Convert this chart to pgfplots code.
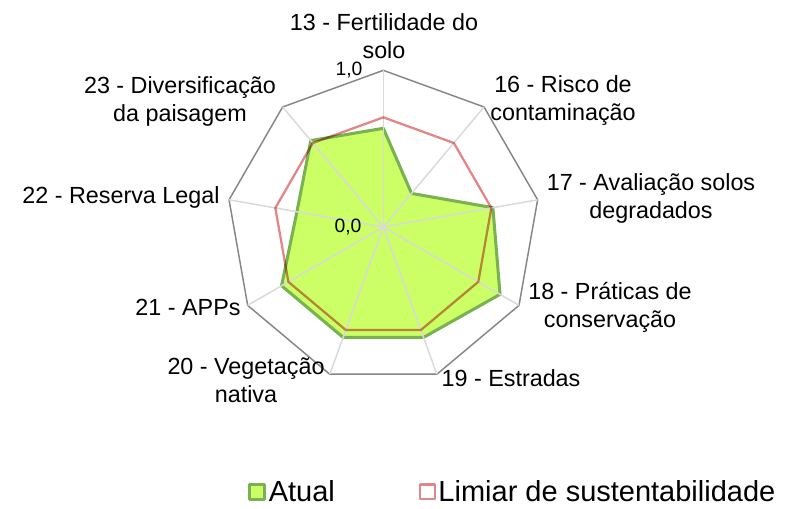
\documentclass[border=0pt]{standalone}
\usepackage{fontspec}
\setmainfont{Liberation Sans}
\usepackage{pgfplots}
\pgfplotsset{compat=1.18}
\definecolor{greenfill}{RGB}{204,255,102}
\definecolor{greenline}{RGB}{122,178,82}
\definecolor{redline}{RGB}{226,134,134}
\definecolor{outerc}{RGB}{134,134,134}
\definecolor{spokec}{RGB}{217,217,217}
\begin{document}
\begin{tikzpicture}
\begin{scope}[x=0.75pt,y=-0.75pt]
\path[use as bounding box] (0,0) rectangle (798,505);
\end{scope}
\begin{axis}[
  at={(287.5pt,-170.25pt)}, anchor=origin,
  x=117.5pt, y=117.5pt,
  xmin=-1, xmax=1, ymin=-1, ymax=1,
  hide axis, clip=false,
  data cs=polar,
  legend columns=2,
  legend image code/.code={\draw[#1] (0pt,-5.5pt) rectangle (11pt,5.5pt);},
  legend style={draw=none, fill=none, font=\fontsize{21.75}{26}\selectfont,
    at={(0.9145,-0.3456)}, anchor=center,
    /tikz/every even column/.append style={column sep=61pt}},
]
% outer polygon
\addplot[outerc, line width=1.1pt, forget plot] coordinates {
 (90,1) (50,1) (10,1) (-30,1) (-70,1) (-110,1) (-150,1) (170,1) (130,1) (90,1)} -- cycle;
% Atual
\addplot[fill=greenfill, draw=greenline, line width=2.3pt, line join=round] coordinates {
 (90,0.63) (50,0.28) (10,0.71) (-30,0.86) (-70,0.75) (-110,0.75) (-150,0.75) (170,0.56) (130,0.72) (90,0.63)} -- cycle;
\addlegendentry{Atual}
% spokes
\pgfplotsinvokeforeach{90,50,10,-30,-70,-110,-150,170,130}{
 \addplot[spokec, line width=1.1pt, forget plot] coordinates {(#1,0) (#1,1)};
}
% Limiar
\addplot[draw=redline, line width=1.7pt, line join=round, blend mode=multiply] coordinates {
 (90,0.70) (50,0.70) (10,0.70) (-30,0.70) (-70,0.70) (-110,0.70) (-150,0.70) (170,0.70) (130,0.70) (90,0.70)} -- cycle;
\addlegendentry{Limiar de sustentabilidade}
\end{axis}
\begin{scope}[x=0.75pt,y=-0.75pt, every node/.style={font=\fontsize{17.5}{21}\selectfont, align=center, inner sep=0pt}]
\node at (384,36) {13 - Fertilidade do\\solo};
\node at (563,101) {16 - Risco de\\contaminação};
\node at (651,198) {17 - Avaliação solos\\degradados};
\node at (610,307) {18 - Práticas de\\conservação};
\node at (511,378) {19 - Estradas};
\node at (246,380) {20 - Vegetação\\nativa};
\node at (188,307) {21 - APPs};
\node at (121,197) {22 - Reserva Legal};
\node at (180,101) {23 - Diversificação\\da paisagem};
\node[font=\fontsize{14.5}{17}\selectfont] at (349,70) {1,0};
\node[font=\fontsize{14.5}{17}\selectfont] at (348,227) {0,0};
\end{scope}
\end{tikzpicture}
\end{document}
